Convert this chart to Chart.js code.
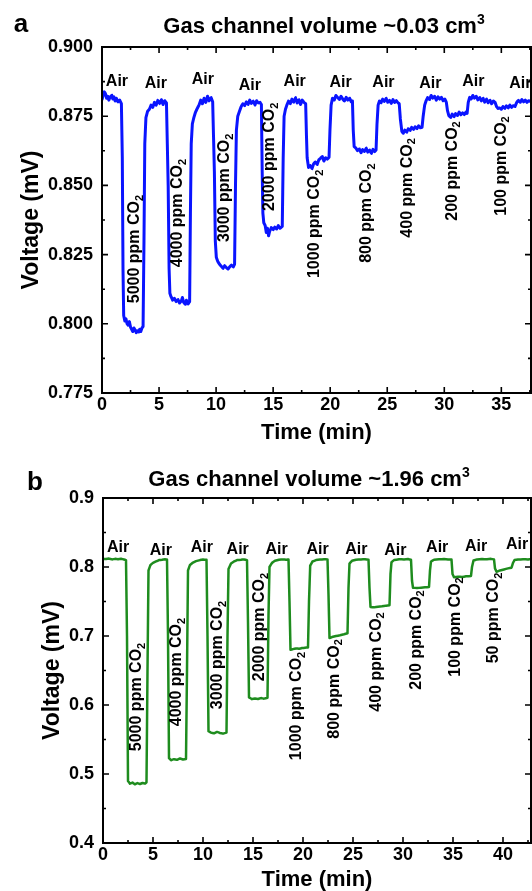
<!DOCTYPE html>
<html>
<head>
<meta charset="utf-8">
<title>CO2 response at two gas channel volumes</title>
<script src="https://cdn.jsdelivr.net/npm/chart.js@4.4.1/dist/chart.umd.min.js"></script>
<style>
    body { margin: 0; background: #fff; }
    .panel { position: absolute; left: 0; }
    #panel-a { top: 0; }
    #panel-b { top: 450px; }
</style>
</head>
<body>
<canvas id="panel-a" class="panel" width="532" height="450"></canvas>
<canvas id="panel-b" class="panel" width="532" height="441"></canvas>
<script>
// ---- Panel a data (gas channel ~0.03 cm3) ----
const timeA = [
    0.00, 0.10, 0.20, 0.30, 0.40, 0.50, 0.60, 0.70, 0.85, 0.95, 1.05, 1.15, 1.25, 1.40, 1.55, 1.70,
    1.78, 1.84, 1.90,
    2.00, 2.10, 2.20, 2.30, 2.40, 2.50, 2.60, 2.70, 2.80, 2.90, 3.00, 3.10, 3.20, 3.30, 3.40, 3.50, 3.60,
    3.68, 3.75, 3.85, 4.00, 4.15, 4.30, 4.45, 4.60, 4.75, 4.90, 5.05, 5.20, 5.35, 5.50, 5.65,
    5.80, 5.88, 5.95, 6.05, 6.20, 6.35, 6.50, 6.65, 6.80, 6.95, 7.05, 7.15, 7.30, 7.40, 7.55, 7.68,
    7.75, 7.82, 7.92, 8.05, 8.20, 8.35, 8.50, 8.65, 8.80, 8.95, 9.10, 9.25, 9.40, 9.55, 9.70,
    9.85, 9.93, 10.02, 10.15, 10.30, 10.45, 10.60, 10.75, 10.90, 11.05, 11.20, 11.35, 11.50, 11.62,
    11.70, 11.78, 11.90, 12.05, 12.20, 12.35, 12.50, 12.65, 12.80, 12.95, 13.10, 13.25, 13.40, 13.55, 13.70, 13.85, 13.97,
    14.04, 14.10, 14.18, 14.30, 14.40, 14.50, 14.60, 14.70, 14.85, 15.00, 15.15, 15.30, 15.45, 15.60, 15.80,
    15.88, 15.96, 16.08, 16.20, 16.35, 16.50, 16.65, 16.80, 16.95, 17.10, 17.25, 17.40, 17.55, 17.70, 17.85,
    17.92, 17.98, 18.10, 18.25, 18.40, 18.55, 18.70, 18.85, 19.00, 19.15, 19.30, 19.45, 19.60, 19.75, 19.90,
    19.98, 20.08, 20.20, 20.35, 20.50, 20.65, 20.80, 20.95, 21.10, 21.25, 21.40, 21.55, 21.70, 21.85, 21.95,
    22.02, 22.10, 22.25, 22.40, 22.55, 22.70, 22.85, 23.00, 23.15, 23.30, 23.45, 23.60, 23.75, 23.90, 24.02,
    24.10, 24.20, 24.32, 24.45, 24.60, 24.75, 24.90, 25.05, 25.20, 25.35, 25.50, 25.65, 25.80, 25.95, 26.05,
    26.15, 26.28, 26.40, 26.55, 26.70, 26.85, 27.00, 27.15, 27.30, 27.45, 27.60, 27.75, 27.90, 28.05,
    28.15, 28.28, 28.40, 28.55, 28.70, 28.85, 29.00, 29.15, 29.30, 29.45, 29.60, 29.75, 29.90, 30.05, 30.18,
    30.28, 30.40, 30.55, 30.70, 30.85, 31.00, 31.15, 31.30, 31.45, 31.60, 31.75, 31.90, 32.00,
    32.10, 32.22, 32.35, 32.50, 32.65, 32.80, 32.95, 33.10, 33.25, 33.40, 33.55, 33.70, 33.85, 34.00, 34.15, 34.30, 34.45,
    34.58, 34.70, 34.85, 35.00, 35.15, 35.30, 35.45, 35.60, 35.75, 35.90, 36.05, 36.20,
    36.35, 36.50, 36.65, 36.80, 36.95, 37.10, 37.25, 37.40, 37.60
];
const voltageA = [
    0.8810, 0.8825, 0.8838, 0.8832, 0.8815, 0.8822, 0.8808, 0.8818, 0.8826, 0.8812, 0.8820, 0.8805, 0.8815, 0.8802, 0.8808, 0.8795,
    0.8600, 0.8200, 0.8030,
    0.8010, 0.8018, 0.8000, 0.7995, 0.8008, 0.7988, 0.7980, 0.7972, 0.7985, 0.7978, 0.7968, 0.7975, 0.7970, 0.7980, 0.7972, 0.7985, 0.7990,
    0.8300, 0.8650, 0.8745, 0.8768, 0.8775, 0.8790, 0.8782, 0.8800, 0.8790, 0.8808, 0.8795, 0.8810, 0.8792, 0.8806, 0.8798,
    0.8500, 0.8200, 0.8110, 0.8098, 0.8085, 0.8092, 0.8080, 0.8088, 0.8075, 0.8082, 0.8095, 0.8078, 0.8070, 0.8085, 0.8072, 0.8080,
    0.8400, 0.8650, 0.8722, 0.8745, 0.8765, 0.8778, 0.8790, 0.8808, 0.8795, 0.8815, 0.8800, 0.8822, 0.8805, 0.8818, 0.8802,
    0.8550, 0.8300, 0.8240, 0.8225, 0.8215, 0.8208, 0.8200, 0.8210, 0.8203, 0.8198, 0.8206, 0.8212, 0.8205, 0.8215,
    0.8500, 0.8700, 0.8750, 0.8768, 0.8785, 0.8795, 0.8788, 0.8802, 0.8792, 0.8808, 0.8796, 0.8805, 0.8790, 0.8806, 0.8798, 0.8800, 0.8792,
    0.8550, 0.8400, 0.8365, 0.8355, 0.8330, 0.8345, 0.8318, 0.8335, 0.8348, 0.8340, 0.8350, 0.8342, 0.8355, 0.8345, 0.8352,
    0.8600, 0.8750, 0.8775, 0.8790, 0.8805, 0.8795, 0.8812, 0.8800, 0.8818, 0.8798, 0.8810, 0.8792, 0.8808, 0.8800, 0.8795,
    0.8680, 0.8600, 0.8565, 0.8572, 0.8560, 0.8578, 0.8585, 0.8575, 0.8592, 0.8598, 0.8605, 0.8588, 0.8600, 0.8595, 0.8602,
    0.8700, 0.8790, 0.8815, 0.8808, 0.8825, 0.8818, 0.8810, 0.8822, 0.8812, 0.8805, 0.8818, 0.8808, 0.8815, 0.8802, 0.8805,
    0.8700, 0.8640, 0.8635, 0.8625, 0.8632, 0.8618, 0.8630, 0.8622, 0.8635, 0.8620, 0.8628, 0.8615, 0.8630, 0.8622, 0.8628,
    0.8720, 0.8790, 0.8805, 0.8798, 0.8812, 0.8803, 0.8815, 0.8800, 0.8808, 0.8796, 0.8810, 0.8800, 0.8806, 0.8798, 0.8795,
    0.8740, 0.8695, 0.8688, 0.8700, 0.8692, 0.8705, 0.8698, 0.8710, 0.8702, 0.8712, 0.8705, 0.8715, 0.8708, 0.8710,
    0.8750, 0.8790, 0.8805, 0.8818, 0.8810, 0.8825, 0.8815, 0.8822, 0.8808, 0.8820, 0.8812, 0.8818, 0.8806, 0.8812, 0.8800,
    0.8770, 0.8752, 0.8745, 0.8758, 0.8748, 0.8760, 0.8752, 0.8765, 0.8755, 0.8762, 0.8756, 0.8765, 0.8760,
    0.8800, 0.8818, 0.8812, 0.8825, 0.8815, 0.8822, 0.8808, 0.8818, 0.8805, 0.8815, 0.8800, 0.8812, 0.8798, 0.8808, 0.8795, 0.8805, 0.8800,
    0.8785, 0.8778, 0.8780, 0.8775, 0.8785, 0.8778, 0.8788, 0.8780, 0.8790, 0.8782, 0.8788, 0.8785,
    0.8800, 0.8808, 0.8800, 0.8810, 0.8802, 0.8808, 0.8800, 0.8806, 0.8802
];
const xTicksA = [0, 5, 10, 15, 20, 25, 30, 35];
const yTicksA = [0.775, 0.800, 0.825, 0.850, 0.875, 0.900];
const gasLabelsA = ['5000', '4000', '3000', '2000', '1000', '800', '400', '200', '100'];
const gasTimeA = [2.89, 6.65, 10.76, 14.70, 18.64, 23.18, 26.77, 30.71, 35.00];
const gasVoltA = [0.8270, 0.8400, 0.8491, 0.8603, 0.8361, 0.8400, 0.8491, 0.8552, 0.8570];
const airTimeA = [1.31, 4.72, 8.84, 12.95, 16.89, 20.91, 24.67, 28.78, 32.55, 36.66];
const airVoltA = [0.8874, 0.8866, 0.8881, 0.8859, 0.8874, 0.8870, 0.8870, 0.8866, 0.8874, 0.8866];

// ---- Panel b data (gas channel ~1.96 cm3) ----
const timeB = [
    0.00, 0.30, 0.60, 0.90, 1.20, 1.50, 1.80, 2.10, 2.30,
    2.40, 2.50, 2.70, 2.95, 3.20, 3.45, 3.70, 3.95, 4.20, 4.35,
    4.45, 4.55, 4.75, 5.00, 5.30, 5.60, 5.90, 6.20, 6.40,
    6.50, 6.60, 6.80, 7.10, 7.40, 7.70, 8.00, 8.30,
    8.40, 8.50, 8.70, 9.00, 9.30, 9.70, 10.00, 10.35,
    10.45, 10.55, 10.80, 11.10, 11.40, 11.70, 12.00, 12.35,
    12.45, 12.55, 12.80, 13.10, 13.40, 13.80, 14.10, 14.40,
    14.50, 14.60, 14.90, 15.20, 15.50, 15.80, 16.10, 16.45,
    16.55, 16.65, 16.90, 17.20, 17.60, 18.00, 18.30, 18.55,
    18.65, 18.75, 19.00, 19.30, 19.60, 19.90, 20.20, 20.50,
    20.60, 20.72, 20.95, 21.30, 21.70, 22.10, 22.45,
    22.55, 22.65, 22.90, 23.30, 23.70, 24.10, 24.45,
    24.55, 24.65, 24.90, 25.30, 25.80, 26.20, 26.55,
    26.65, 26.75, 27.10, 27.50, 27.90, 28.30, 28.65,
    28.75, 28.85, 29.10, 29.60, 30.10, 30.50, 30.80,
    30.90, 31.00, 31.40, 31.80, 32.20, 32.60,
    32.70, 32.80, 33.10, 33.60, 34.10, 34.50, 34.85,
    34.95, 35.10, 35.50, 35.90, 36.30, 36.80,
    36.90, 37.05, 37.40, 37.90, 38.40, 38.80, 39.10,
    39.20, 39.35, 39.70, 40.10, 40.50, 40.85,
    41.00, 41.15, 41.50, 42.00, 42.50, 42.80
];
const voltageB = [
    0.8120, 0.8115, 0.8122, 0.8110, 0.8118, 0.8112, 0.8120, 0.8108, 0.8100,
    0.7000, 0.4900, 0.4860, 0.4875, 0.4850, 0.4868, 0.4855, 0.4870, 0.4860, 0.4880,
    0.6500, 0.7950, 0.8030, 0.8060, 0.8080, 0.8100, 0.8105, 0.8112, 0.8108,
    0.7000, 0.5230, 0.5200, 0.5215, 0.5205, 0.5225, 0.5210, 0.5218,
    0.6500, 0.7950, 0.8030, 0.8065, 0.8085, 0.8100, 0.8108, 0.8105,
    0.7000, 0.5620, 0.5600, 0.5590, 0.5610, 0.5595, 0.5585, 0.5600,
    0.7000, 0.7970, 0.8050, 0.8080, 0.8100, 0.8105, 0.8110, 0.8100,
    0.7200, 0.6110, 0.6085, 0.6095, 0.6088, 0.6100, 0.6092, 0.6105,
    0.7300, 0.8000, 0.8060, 0.8090, 0.8105, 0.8110, 0.8105, 0.8108,
    0.7500, 0.6800, 0.6810, 0.6820, 0.6815, 0.6825, 0.6830, 0.6835,
    0.7500, 0.8020, 0.8080, 0.8100, 0.8108, 0.8112, 0.8110,
    0.7600, 0.6970, 0.6985, 0.7000, 0.7010, 0.7025, 0.7040,
    0.7700, 0.8050, 0.8090, 0.8105, 0.8110, 0.8112, 0.8105,
    0.7700, 0.7420, 0.7415, 0.7425, 0.7430, 0.7440, 0.7445,
    0.7900, 0.8070, 0.8100, 0.8112, 0.8110, 0.8115, 0.8105,
    0.7800, 0.7700, 0.7695, 0.7700, 0.7705, 0.7710,
    0.7950, 0.8080, 0.8105, 0.8112, 0.8115, 0.8110, 0.8108,
    0.7900, 0.7850, 0.7860, 0.7855, 0.7865, 0.7870,
    0.8000, 0.8095, 0.8110, 0.8115, 0.8112, 0.8118, 0.8110,
    0.7980, 0.7930, 0.7950, 0.7965, 0.7980, 0.7990,
    0.8060, 0.8100, 0.8108, 0.8112, 0.8110, 0.8115
];
const xTicksB = [0, 5, 10, 15, 20, 25, 30, 35, 40];
const yTicksB = [0.4, 0.5, 0.6, 0.7, 0.8, 0.9];
const gasLabelsB = ['5000', '4000', '3000', '2000', '1000', '800', '400', '200', '100', '50'];
const gasTimeB = [3.39, 7.38, 11.47, 15.66, 19.35, 23.14, 27.33, 31.32, 35.21, 39.10];
const gasVoltB = [0.6116, 0.6478, 0.6725, 0.7130, 0.5986, 0.6232, 0.6623, 0.6942, 0.7130, 0.7261];
const airTimeB = [1.50, 5.79, 9.88, 13.47, 17.36, 21.45, 25.34, 29.23, 33.42, 37.31, 41.40];
const airVoltB = [0.8275, 0.8232, 0.8275, 0.8246, 0.8246, 0.8246, 0.8246, 0.8232, 0.8275, 0.8290, 0.8319];

const FONT = "'Liberation Sans', Arial, Helvetica, sans-serif";

// Draw "main" followed by a small raised/lowered suffix, centred on (0, 0)
function drawScripted(ctx, main, suffix, size, subSize, shift) {
    ctx.font = `bold ${size}px ${FONT}`;
    const w1 = ctx.measureText(main).width;
    ctx.font = `bold ${subSize}px ${FONT}`;
    const w2 = ctx.measureText(suffix).width;
    const start = -(w1 + w2) / 2;
    ctx.textAlign = 'left';
    ctx.textBaseline = 'middle';
    ctx.font = `bold ${size}px ${FONT}`;
    ctx.fillText(main, start, 0);
    ctx.font = `bold ${subSize}px ${FONT}`;
    ctx.fillText(suffix, start + w1, shift);
}

// Frame, inward ticks, title and gas annotations
function makeDecor(cfg) {
    return {
        id: 'decor',
        afterDraw(chart) {
            const ctx = chart.ctx;
            const area = chart.chartArea;
            const xs = chart.scales.x;
            const ys = chart.scales.y;
            ctx.save();

            // frame
            ctx.strokeStyle = '#000';
            ctx.lineWidth = 2;
            ctx.strokeRect(area.left, area.top, area.right - area.left, area.bottom - area.top);

            // ticks (major + half-step minor) on all four sides
            ctx.lineWidth = 1.6;
            ctx.beginPath();
            const xStep = cfg.xTicks[1] - cfg.xTicks[0];
            cfg.xTicks.forEach(v => {
                [[v, 6], [v + xStep / 2, 3]].forEach(([t, len]) => {
                    if (t > cfg.xMax) return;
                    const px = xs.getPixelForValue(t);
                    ctx.moveTo(px, area.bottom); ctx.lineTo(px, area.bottom - len);
                    ctx.moveTo(px, area.top); ctx.lineTo(px, area.top + len);
                });
            });
            const yStep = cfg.yTicks[1] - cfg.yTicks[0];
            cfg.yTicks.forEach((v, i) => {
                const marks = [[v, 6]];
                if (i < cfg.yTicks.length - 1) marks.push([v + yStep / 2, 3]);
                marks.forEach(([val, len]) => {
                    const py = ys.getPixelForValue(val);
                    ctx.moveTo(area.left, py); ctx.lineTo(area.left + len, py);
                    ctx.moveTo(area.right, py); ctx.lineTo(area.right - len, py);
                });
            });
            ctx.stroke();

            ctx.fillStyle = '#000';

            // panel letter
            ctx.font = `bold 26px ${FONT}`;
            ctx.textAlign = 'center';
            ctx.textBaseline = 'middle';
            ctx.fillText(cfg.letter, cfg.letterPos[0], cfg.letterPos[1]);

            // title with superscript
            ctx.save();
            ctx.translate(cfg.titlePos[0], cfg.titlePos[1]);
            drawScripted(ctx, cfg.title, '3', 22, 14, -7);
            ctx.restore();

            // "Air" labels
            ctx.font = `bold 16px ${FONT}`;
            ctx.textAlign = 'center';
            ctx.textBaseline = 'middle';
            cfg.airTime.forEach((t, i) => {
                ctx.fillText('Air', xs.getPixelForValue(t), ys.getPixelForValue(cfg.airVolt[i]));
            });

            // rotated CO2 labels
            cfg.gasLabels.forEach((label, i) => {
                ctx.save();
                ctx.translate(xs.getPixelForValue(cfg.gasTime[i]), ys.getPixelForValue(cfg.gasVolt[i]));
                ctx.rotate(-Math.PI / 2);
                drawScripted(ctx, label + ' ppm CO', '2', 16, 11, 5);
                ctx.restore();
            });

            ctx.restore();
        }
    };
}

// Build one panel
function createPanel(id, cfg) {
    const ctx = document.getElementById(id).getContext('2d');
    const tickFont = { family: FONT, size: 18, weight: 'bold' };
    const titleFont = { family: FONT, size: 22, weight: 'bold', lineHeight: 1 };

    return new Chart(ctx, {
        type: 'line',
        data: {
            datasets: [{
                data: cfg.time.map((t, i) => ({ x: t, y: cfg.volt[i] })),
                borderColor: cfg.color,
                borderWidth: cfg.lineWidth,
                borderJoinStyle: 'round',
                borderCapStyle: 'round',
                pointRadius: 0,
                // tiny tension keeps the full path renderer (no per-pixel merging on steep edges)
                tension: 0.001,
                fill: false
            }]
        },
        options: {
            responsive: false,
            animation: false,
            events: [],
            layout: { padding: { top: cfg.top, right: 1, left: 0, bottom: 0 } },
            plugins: {
                legend: { display: false },
                tooltip: { enabled: false }
            },
            scales: {
                x: {
                    type: 'linear',
                    min: 0,
                    max: cfg.xMax,
                    grid: { display: false, drawTicks: false },
                    border: { display: false },
                    afterBuildTicks: s => { s.ticks = cfg.xTicks.map(v => ({ value: v })); },
                    afterFit: s => { s.height = cfg.xAxisHeight; },
                    ticks: { font: tickFont, color: '#000', padding: 1, maxRotation: 0, autoSkip: false },
                    title: {
                        display: true,
                        text: 'Time (min)',
                        font: titleFont,
                        color: '#000',
                        padding: { top: 0, bottom: cfg.xTitlePad }
                    }
                },
                y: {
                    type: 'linear',
                    min: cfg.yTicks[0],
                    max: cfg.yTicks[cfg.yTicks.length - 1],
                    grid: { display: false, drawTicks: false },
                    border: { display: false },
                    afterBuildTicks: s => { s.ticks = cfg.yTicks.map(v => ({ value: v })); },
                    afterFit: s => { s.width = cfg.yAxisWidth; },
                    ticks: {
                        font: tickFont,
                        color: '#000',
                        padding: 9,
                        autoSkip: false,
                        callback: v => v.toFixed(cfg.decimals)
                    },
                    title: {
                        display: true,
                        text: 'Voltage (mV)',
                        font: { family: FONT, size: 23, weight: 'bold', lineHeight: 1 },
                        color: '#000',
                        padding: { top: cfg.yTitlePad, bottom: 0 }
                    }
                }
            }
        },
        plugins: [makeDecor(cfg)]
    });
}

document.addEventListener('DOMContentLoaded', function() {
    createPanel('panel-a', {
        time: timeA, volt: voltageA, color: '#0a14ff', lineWidth: 3,
        xTicks: xTicksA, yTicks: yTicksA, xMax: 37.6, decimals: 3,
        top: 47, xAxisHeight: 57, yAxisWidth: 102, xTitlePad: 6, yTitlePad: 20.5,
        letter: 'a', letterPos: [21, 25],
        title: 'Gas channel volume ~0.03 cm', titlePos: [324, 27],
        airTime: airTimeA, airVolt: airVoltA,
        gasLabels: gasLabelsA, gasTime: gasTimeA, gasVolt: gasVoltA
    });
    createPanel('panel-b', {
        time: timeB, volt: voltageB, color: '#1e8c1e', lineWidth: 2.5,
        xTicks: xTicksB, yTicks: yTicksB, xMax: 42.8, decimals: 1,
        top: 48, xAxisHeight: 48, yAxisWidth: 103, xTitlePad: 0, yTitlePad: 41.5,
        letter: 'b', letterPos: [35, 33],
        title: 'Gas channel volume ~1.96 cm', titlePos: [309, 30],
        airTime: airTimeB, airVolt: airVoltB,
        gasLabels: gasLabelsB, gasTime: gasTimeB, gasVolt: gasVoltB
    });
});
</script>
</body>
</html>
